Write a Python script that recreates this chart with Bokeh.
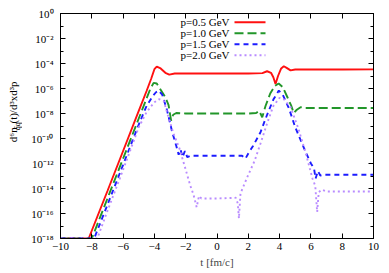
import math
from bokeh.plotting import figure
from bokeh.layouts import row
from bokeh.models import (FixedTicker, LinearAxis, LogAxis, CustomJSTickFormatter,
                          Label, Range1d)
from bokeh.embed import file_html
from bokeh.resources import INLINE

# ---------------- data ----------------
t_red = [-10.0, -8.2, -7.0, -6.0, -5.0, -4.5, -4.2, -4.0, -3.85, -3.6, -3.3, -3.05, -2.7, -2.0, 0.0,
         2.0, 2.9, 3.2, 3.45, 3.6, 3.74, 3.9, 4.1, 4.27, 4.45, 4.7, 5.0, 6.0, 8.0, 10.0]
n_red = [1e-18, 1e-18, 6.3e-15, 1.0e-11, 1.6e-8, 6.3e-7, 6.3e-6, 3.5e-5, 5.6e-5, 4.0e-5, 1.8e-5, 1.3e-5,
         1.6e-5, 1.6e-5, 1.6e-5, 1.6e-5, 1.7e-5, 2.4e-5, 1.8e-5, 7.9e-6, 2.3e-6, 1.0e-5, 4.0e-5, 6.0e-5,
         4.5e-5, 2.8e-5, 3.3e-5, 3.3e-5, 3.3e-5, 3.4e-5]

t_grn = [-10.0, -8.0, -7.0, -6.0, -5.0, -4.5, -4.25, -4.05, -3.85, -3.55, -3.3, -3.1, -2.93, -2.8, -2.6,
         -2.0, 0.0, 2.0, 2.5, 2.7, 2.89, 3.1, 3.4, 3.7, 3.94, 4.2, 4.5, 4.75, 4.9, 5.1, 5.34, 5.6, 7.0, 10.0]
n_grn = [1e-18, 1e-18, 1.6e-15, 2.5e-12, 4.0e-9, 1.6e-7, 1.0e-6, 2.8e-6, 2.5e-6, 6.3e-7, 2.0e-7, 5.0e-8,
         2.7e-9, 7.9e-9, 1.1e-8, 1.0e-8, 1.0e-8, 1.0e-8, 1.1e-8, 1.6e-8, 5.0e-9, 4.0e-8, 4.0e-7, 1.6e-6,
         2.5e-6, 1.3e-6, 2.0e-7, 4.0e-8, 1.1e-8, 2.0e-8, 3.2e-8, 2.75e-8, 2.75e-8, 2.75e-8]

t_blu = [-10.0, -7.85, -7.0, -6.0, -5.0, -4.5, -4.1, -3.9, -3.72, -3.5, -3.2, -2.86, -2.6, -2.45, -2.33,
         -2.2, -2.05, -1.9, -1.7, 0.0, 1.6, 1.82, 2.0, 2.3, 2.78, 3.2, 3.6, 3.95, 4.2, 4.6, 5.0, 5.6, 6.0,
         6.2, 6.3, 6.45, 6.6, 6.8, 8.0, 10.0]
n_blu = [1e-18, 1e-18, 5e-16, 7.9e-13, 1.3e-9, 4e-8, 2.5e-7, 5e-7, 6.8e-7, 3.2e-7, 2e-8, 3.2e-10, 2.5e-11,
         5e-12, 1.3e-11, 3.2e-12, 1e-11, 3.2e-12, 4.2e-12, 4.2e-12, 4.2e-12, 2.5e-12, 6.3e-12, 2.5e-11,
         3.2e-10, 7.9e-9, 1.3e-7, 6.8e-7, 3.2e-7, 2.5e-8, 7.9e-10, 1.3e-11, 1e-12, 4e-13, 6.3e-14, 2.5e-13,
         1.1e-13, 1.26e-13, 1.26e-13, 1.26e-13]

t_pur = [-10.0, -7.65, -7.0, -6.0, -5.0, -4.5, -4.0, -3.7, -3.4, -3.1, -2.78, -2.4, -2.0, -1.7, -1.5,
         -1.3, -1.15, -1.0, 0.0, 1.2, 1.33, 1.4, 1.5, 1.93, 2.4, 2.78, 3.2, 3.6, 4.0, 4.3, 4.7, 5.2, 5.7,
         6.1, 6.28, 6.4, 6.5, 6.7, 7.0, 10.0]
n_pur = [1e-18, 1e-18, 1.6e-16, 3.2e-13, 7.9e-10, 1.3e-8, 7.9e-8, 1.4e-7, 1e-7, 5e-9, 2.5e-10, 1.6e-11,
         3.2e-13, 1.6e-14, 3.2e-15, 3.2e-16, 2.5e-15, 1.6e-15, 1.6e-15, 1.8e-15, 6.3e-16, 4e-17, 4e-15,
         7.9e-14, 1.6e-12, 4e-11, 1.6e-9, 4e-8, 1.8e-7, 1.3e-7, 3.2e-8, 6.3e-10, 5e-12, 6.3e-14, 1.6e-14,
         1.3e-16, 5e-15, 7.9e-15, 5.8e-15, 5.8e-15]

series_labels = ["p=0.5 GeV", "p=1.0 GeV", "p=1.5 GeV", "p=2.0 GeV"]
x_ticks = [-10, -8, -6, -4, -2, 0, 2, 4, 6, 8, 10]
y_ticks = [1e-18, 1e-16, 1e-14, 1e-12, 1e-10, 1e-8, 1e-6, 1e-4, 1e-2, 1.0]
y_tick_labels = ["10⁻¹⁸", "10⁻¹⁶", "10⁻¹⁴", "10⁻¹²", "10⁻¹⁰", "10⁻⁸", "10⁻⁶", "10⁻⁴", "10⁻²", "10⁰"]
y_minor = [1e-17, 1e-15, 1e-13, 1e-11, 1e-9, 1e-7, 1e-5, 1e-3, 1e-1]
x_title = "t [fm/c]"
y_title_parts = ["d⁶n", "q̄q", "(t)/d³xd³p"]

FONT = "Liberation Serif"
FS = "11px"
H = 271
LW = 22            # width of the strip that carries the y-axis title
W = 364
BL, BR, BT, BB = 38, 13, 13, 33

X0, X1 = -10, 10
Y0, Y1 = 1e-18, 1.0
p = figure(width=W, height=H, x_range=Range1d(X0, X1), y_range=Range1d(Y0, Y1),
           y_axis_type="log", output_backend="svg", toolbar_location=None,
           min_border_left=BL, min_border_right=BR, min_border_top=BT, min_border_bottom=BB)
p.xgrid.visible = False
p.ygrid.visible = False
p.outline_line_color = "black"
p.outline_line_width = 1
p.background_fill_color = "white"

fmt = CustomJSTickFormatter(args=dict(vals=y_ticks, labs=y_tick_labels), code="""
const i = vals.findIndex(v => Math.abs(Math.log10(v) - Math.log10(tick)) < 1e-6);
return i >= 0 ? labs[i] : '';
""")
blank = CustomJSTickFormatter(code="return '';")

def style_axis(ax, labels=True):
    ax.major_tick_in = 5
    ax.major_tick_out = 0
    ax.minor_tick_in = 3
    ax.minor_tick_out = 0
    ax.axis_line_color = "black"
    ax.major_label_text_font = FONT
    ax.major_label_text_font_size = FS
    ax.major_label_text_color = "black"
    if not labels:
        ax.formatter = blank
        ax.major_label_standoff = 0

xt = FixedTicker(ticks=x_ticks, minor_ticks=[])
yt = FixedTicker(ticks=y_ticks, minor_ticks=y_minor)

p.xaxis.ticker = xt
p.yaxis.ticker = yt
p.yaxis.formatter = fmt
style_axis(p.xaxis[0])
style_axis(p.yaxis[0])
p.xaxis.major_label_standoff = 4
p.yaxis.major_label_standoff = 7
p.xaxis.axis_label = x_title
p.xaxis.axis_label_text_font = FONT
p.xaxis.axis_label_text_font_size = FS
p.xaxis.axis_label_text_font_style = "normal"
p.xaxis.axis_label_standoff = 3

top = LinearAxis(ticker=xt)
style_axis(top, labels=False)
p.add_layout(top, "above")
right = LogAxis(ticker=yt)
style_axis(right, labels=False)
p.add_layout(right, "right")

colors = ["#ff1010", "#22962a", "#1c1cff", "#b98cff"]
dashes = ["solid", "9 4", "5 4", "2 3"]
ts = [t_red, t_grn, t_blu, t_pur]
ns = [n_red, n_grn, n_blu, n_pur]
for t, n, c, d in zip(ts, ns, colors, dashes):
    p.line(t, n, line_color=c, line_width=1.9, line_dash=d)

# ---- key (text left, sample line right), placed in pixels from the frame's top-left ----
fw = W - BL - BR
fh = H - BT - BB
px_x = fw / (X1 - X0)
px_dec = fh / (math.log10(Y1) - math.log10(Y0))
def fx(px):
    return X0 + px / px_x
def fy(py):
    return 10 ** (math.log10(Y1) - py / px_dec)

for i, (lab, c, d) in enumerate(zip(series_labels, colors, dashes)):
    row_y = 8.7 + 11 * i
    p.add_layout(Label(x=X0, y=Y1, x_offset=120, y_offset=-row_y, text=lab,
                       text_font=FONT, text_font_size=FS, text_baseline="middle",
                       text_align="left", text_color="black"))
    p.line([fx(174), fx(205)], [fy(row_y), fy(row_y)], line_color=c, line_width=1.9, line_dash=d)

# ---- strip with the rotated y-axis title: d^6 n_{q̄q}(t)/d^3xd^3p ----
lf = figure(width=LW, height=H, x_range=Range1d(0, LW), y_range=Range1d(0, H),
            output_backend="svg", toolbar_location=None, min_border=0,
            x_axis_location=None, y_axis_location=None)
lf.grid.visible = False
lf.outline_line_color = None
lf.background_fill_color = "white"
parts = [(y_title_parts[0], 12, H - 155, FS),
         (y_title_parts[1], 16.5, H - 140.5, "8px"),
         (y_title_parts[2], 12, H - 132.5, FS)]
for txt, cx, cy, fs in parts:
    lf.add_layout(Label(x=cx, y=cy, text=txt, angle=math.pi / 2, text_font=FONT,
                        text_font_size=fs, text_baseline="middle", text_align="left",
                        text_color="black"))

layout = row(lf, p)
open("out.html", "w").write(file_html(layout, INLINE))
